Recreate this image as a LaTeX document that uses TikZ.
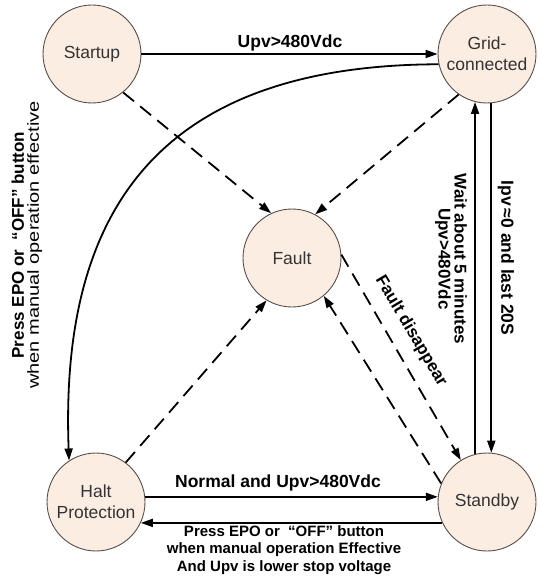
\documentclass[tikz,border=0pt]{standalone}
\usepackage{fontspec}
\setmainfont{Liberation Sans}
\usepackage{graphicx}
\usepackage{xcolor}
\definecolor{peach}{RGB}{252,237,227}
\definecolor{rimgray}{RGB}{85,78,72}
\usetikzlibrary{arrows.meta}
\tikzset{
	state/.style={circle, draw=rimgray, line width=0.9pt, fill=peach, minimum size=98pt, inner sep=0pt, align=center, text=black!80, font=\fontsize{17.5}{21}\selectfont},
	arr/.style={line width=1.8pt, -{Triangle[length=12pt,width=8pt]}},
	darr/.style={arr, dash pattern=on 14pt off 8pt},
	lbl/.style={align=center, font=\bfseries\fontsize{17.5}{19}\selectfont}
}

\begin{document}
\begin{tikzpicture}[x=1pt, y=-1pt]
					\fill[white] (0,0) rectangle (542,580);
					\useasboundingbox (0,0) rectangle (542,580);
					% states
					\node[state] (startup) at (92,54) {Startup};
					\node[state] (grid) at (487,54) {Grid-\\connected};
					\node[state] (fault) at (292,258) {Fault};
					\node[state] (halt) at (96,502) {Halt\\Protection};
					\node[state] (standby) at (487,502) {Standby};
					% transitions
					\draw[arr] (startup) -- (grid);
					\draw[arr] (grid.-168) .. controls (150,65) and (60,220) .. (halt.123);
					\draw[darr] (startup.-51) -- (fault.115);
					\draw[darr] (grid.-125) -- (fault.62);
					\draw[darr] (halt.53) -- (fault.-121);
					\draw[darr] (standby.158) -- (fault.-50);
					\draw[darr] (fault.4) -- (standby.122);
					\draw[arr] (halt.6) -- (standby.174);
					\draw[arr] (standby.-155) -- (halt.-25);
					\draw[arr] (standby.104) -- (grid.-104);
					\draw[arr] (grid.-85) -- (standby.85);
					% conditions
					\node[lbl] (upv) at (290,43) {Upv>480Vdc};
					\node[lbl] (normal) at (278,483) {Normal and Upv>480Vdc};
					\node[lbl, font=\bfseries\fontsize{15}{17.5}\selectfont] (epo) at (284,550) {Press EPO or \ “OFF”\ button\\when manual operation Effective\\And Upv is lower stop voltage};
					\node[rotate=90, align=center, font=\fontsize{16}{15}\selectfont] (epoleft) at (27,245) {{\bfseries\fontsize{17}{15}\selectfont Press EPO or\ \ “OFF”\ button}\\\scalebox{1.25}[1]{when manual operation effective}};
					\node[lbl, rotate=-90, font=\bfseries\fontsize{17}{16}\selectfont] (wait) at (451,259) {Wait about 5 minutes\\Upv>480Vdc};
					\node[lbl, rotate=-90] (ipv) at (506,258) {Ipv\,≈0 and last 20S};
					\node[lbl, rotate=-59.5, font=\bfseries\fontsize{17}{19}\selectfont] (disappear) at (411,331) {Fault disappear};
\end{tikzpicture}
\end{document}
